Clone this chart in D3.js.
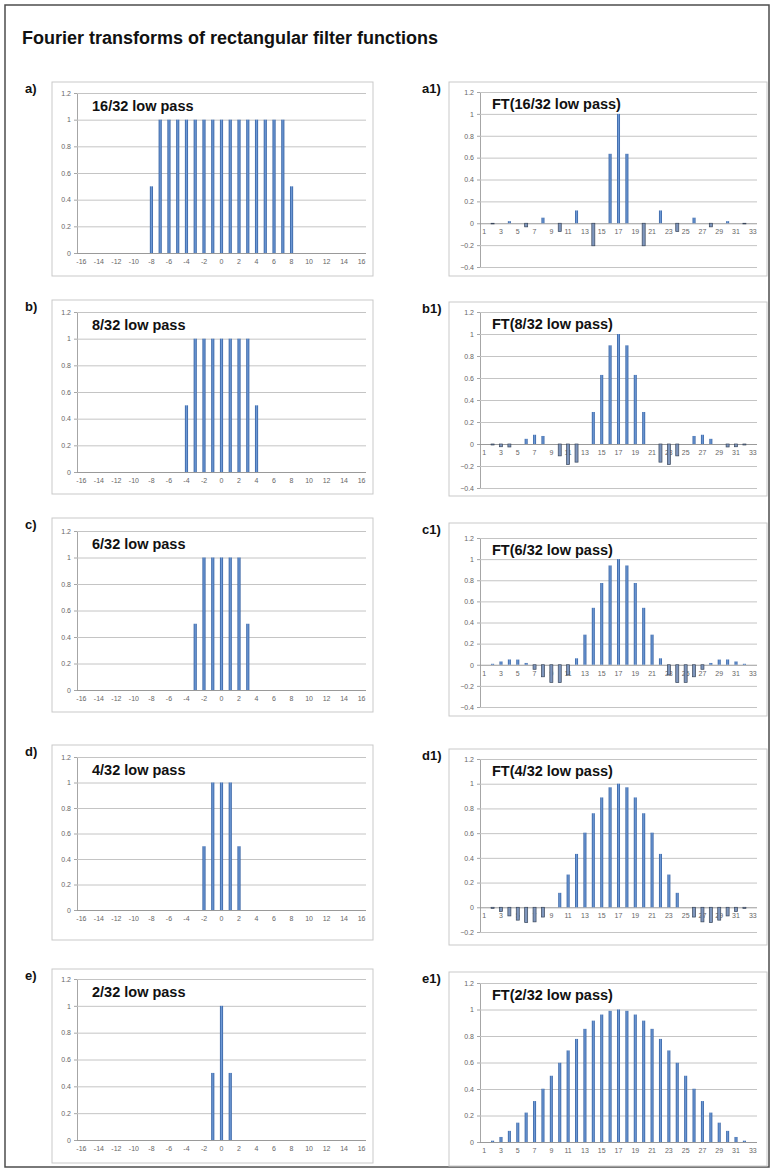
<!DOCTYPE html>
<html><head><meta charset="utf-8">
<script src="https://cdn.jsdelivr.net/npm/d3@7"></script>
<style>body{margin:0;background:#fff}svg{display:block;font-family:"Liberation Sans",Arial,sans-serif}</style>
</head><body><svg id="c" width="774" height="1171"></svg>
<script>
// ---------- DATA ----------
const filterCategories = [-16,-15,-14,-13,-12,-11,-10,-9,-8,-7,-6,-5,-4,-3,-2,-1,0,1,2,3,4,5,6,7,8,9,10,11,12,13,14,15,16];
const filterTickLabels = [-16,-14,-12,-10,-8,-6,-4,-2,0,2,4,6,8,10,12,14,16];
const ftCategories = [1,2,3,4,5,6,7,8,9,10,11,12,13,14,15,16,17,18,19,20,21,22,23,24,25,26,27,28,29,30,31,32,33];
const ftTickLabels = [1,3,5,7,9,11,13,15,17,19,21,23,25,27,29,31,33];
const filterTicks = [0,0.2,0.4,0.6,0.8,1,1.2];

const lowPass16 = [0,0,0,0,0,0,0,0,0.5,1,1,1,1,1,1,1,1,1,1,1,1,1,1,1,0.5,0,0,0,0,0,0,0,0];
const lowPass8  = [0,0,0,0,0,0,0,0,0,0,0,0,0.5,1,1,1,1,1,1,1,0.5,0,0,0,0,0,0,0,0,0,0,0,0];
const lowPass6  = [0,0,0,0,0,0,0,0,0,0,0,0,0,0.5,1,1,1,1,1,0.5,0,0,0,0,0,0,0,0,0,0,0,0,0];
const lowPass4  = [0,0,0,0,0,0,0,0,0,0,0,0,0,0,0.5,1,1,1,0.5,0,0,0,0,0,0,0,0,0,0,0,0,0,0];
const lowPass2  = [0,0,0,0,0,0,0,0,0,0,0,0,0,0,0,0.5,1,0.5,0,0,0,0,0,0,0,0,0,0,0,0,0,0,0];

const ft16 = [0,-0.006,0,0.019,0,-0.033,0,0.051,0,-0.076,0,0.117,0,-0.206,0,0.635,1,0.635,0,-0.206,0,0.117,0,-0.076,0,0.051,0,-0.033,0,0.019,0,-0.006,0];
const ft8  = [0,-0.009,-0.025,-0.027,0,0.047,0.084,0.073,0,-0.108,-0.187,-0.165,0,0.291,0.628,0.897,1,0.897,0.628,0.291,0,-0.165,-0.187,-0.108,0,0.073,0.084,0.047,0,-0.027,-0.025,-0.009,0];
const ft6  = [0,0.009,0.031,0.050,0.049,0.017,-0.043,-0.114,-0.167,-0.169,-0.096,0.061,0.285,0.539,0.774,0.940,1,0.940,0.774,0.539,0.285,0.061,-0.096,-0.169,-0.167,-0.114,-0.043,0.017,0.049,0.050,0.031,0.009,0];
const ft4  = [0,-0.009,-0.035,-0.070,-0.104,-0.124,-0.118,-0.079,0,0.117,0.265,0.432,0.604,0.761,0.889,0.971,1,0.971,0.889,0.761,0.604,0.432,0.265,0.117,0,-0.079,-0.118,-0.124,-0.104,-0.070,-0.035,-0.009,0];
const ft2  = [0,0.010,0.038,0.084,0.146,0.222,0.309,0.402,0.5,0.598,0.691,0.778,0.854,0.916,0.962,0.990,1,0.990,0.962,0.916,0.854,0.778,0.691,0.598,0.5,0.402,0.309,0.222,0.146,0.084,0.038,0.010,0];

const ftTicksFull = [-0.4,-0.2,0,0.2,0.4,0.6,0.8,1,1.2];
const ftTicksD = [-0.2,0,0.2,0.4,0.6,0.8,1,1.2];
const ftTicksE = [0,0.2,0.4,0.6,0.8,1,1.2];

const panelLetters = ["a)","b)","c)","d)","e)"];
const ftLetters = ["a1)","b1)","c1)","d1)","e1)"];
const filterTitles = ["16/32 low pass","8/32 low pass","6/32 low pass","4/32 low pass","2/32 low pass"];
const ftTitles = ["FT(16/32 low pass)","FT(8/32 low pass)","FT(6/32 low pass)","FT(4/32 low pass)","FT(2/32 low pass)"];
const filterSeries = [lowPass16, lowPass8, lowPass6, lowPass4, lowPass2];
const ftSeries = [ft16, ft8, ft6, ft4, ft2];
const ftTickSets = [ftTicksFull, ftTicksFull, ftTicksFull, ftTicksD, ftTicksE];

// ---------- LAYOUT ----------
const leftRows = [
  {box:[52,82,373,276], top:93, bot:253},
  {box:[52,300,373,494], top:312, bot:472},
  {box:[52,518,373,712], top:531, bot:690},
  {box:[52,745,373,940], top:757, bot:910},
  {box:[52,969,373,1163], top:979, bot:1140}
];
const rightRows = [
  {box:[449,82,767,276], top:92, bot:267},
  {box:[449,302,767,496], top:312, bot:488},
  {box:[449,523,767,716], top:538, bot:707},
  {box:[449,749,767,945], top:759, bot:932},
  {box:[449,972,767,1166], top:983, bot:1142}
];

const svg = d3.select("#c");
svg.append("rect").attr("x",5).attr("y",5).attr("width",764).attr("height",1162)
  .attr("fill","#fff").attr("stroke","#4d4d4d").attr("stroke-width",1.5);
svg.append("text").attr("x",22).attr("y",44).attr("font-size",18).attr("font-weight","bold")
  .attr("fill","#111").text("Fourier transforms of rectangular filter functions");

const defs = svg.append("defs");
const grad = defs.append("linearGradient").attr("id","barGrad").attr("x1","0").attr("x2","1").attr("y1","0").attr("y2","0");
grad.append("stop").attr("offset","0").attr("stop-color","#2f5c9e");
grad.append("stop").attr("offset","0.5").attr("stop-color","#6f9ad6");
grad.append("stop").attr("offset","1").attr("stop-color","#2f5c9e");

function drawPanel(o){
  const g = svg.append("g");
  const [bx0,by0,bx1,by1] = o.box;
  g.append("rect").attr("x",bx0).attr("y",by0).attr("width",bx1-bx0).attr("height",by1-by0)
    .attr("fill","#fff").attr("stroke","#c9c9c9").attr("stroke-width",1);
  const x = d3.scaleBand().domain(o.cats).range([o.px0,o.px1]).paddingInner(0.64).paddingOuter(0.32);
  const y = d3.scaleLinear().domain(o.domain).range([o.bot,o.top]);
  const yAxis = d3.axisLeft(y).tickValues(o.ticks).tickSize(3).tickFormat(d=>d3.format("~g")(d));
  const ya = g.append("g").attr("transform",`translate(${o.px0},0)`).call(yAxis);
  ya.select(".domain").attr("stroke","#a6a6a6");
  ya.selectAll(".tick line").attr("stroke","#a6a6a6");
  ya.selectAll(".tick text").attr("font-size",7).attr("fill","#666").attr("font-family","Liberation Sans, Arial");
  const grid = d3.axisLeft(y).tickValues(o.ticks).tickSize(-(o.px1-o.px0)).tickFormat("");
  const gg = g.append("g").attr("transform",`translate(${o.px0},0)`).call(grid);
  gg.select(".domain").remove();
  gg.selectAll(".tick line").attr("stroke",d=>d===0?"#9a9a9a":"#c4c4c4").attr("stroke-width",1);
  const xAxis = d3.axisBottom(x).tickValues(o.tickLabels).tickSize(0).tickPadding(6);
  const xa = g.append("g").attr("transform",`translate(0,${y(0)})`).call(xAxis);
  xa.select(".domain").remove();
  xa.selectAll(".tick text").attr("font-size",7).attr("fill","#666").attr("font-family","Liberation Sans, Arial");
  const data = o.cats.map((c,i)=>({c, v:o.values[i]}));
  g.append("g").selectAll("rect").data(data.filter(d=>d.v!==0)).join("rect")
    .attr("x",d=>x(d.c)).attr("width",x.bandwidth())
    .attr("y",d=>y(Math.max(0,d.v))).attr("height",d=>Math.abs(y(d.v)-y(0)))
    .attr("fill",d=>d.v>=0?"url(#barGrad)":"#7e96bd")
    .attr("stroke",d=>d.v>=0?"none":"#39465a").attr("stroke-width",0.7);
  g.append("text").attr("x",o.titleX).attr("y",o.top+o.titleDy).attr("font-size",14.5).attr("font-weight","bold")
    .attr("fill","#111").text(o.title);
  svg.append("text").attr("x",o.labelX).attr("y",by0+11).attr("font-size",13).attr("font-weight","bold")
    .attr("fill","#111").text(o.label);
}

for(let i=0;i<5;i++){
  const L = leftRows[i];
  drawPanel({box:L.box, px0:77, px1:366, top:L.top, bot:L.bot, domain:[0,1.2], ticks:filterTicks,
    cats:filterCategories, tickLabels:filterTickLabels, values:filterSeries[i], title:filterTitles[i],
    titleX:92, titleDy:18, label:panelLetters[i], labelX:25});
  const R = rightRows[i];
  const ts = ftTickSets[i];
  drawPanel({box:R.box, px0:480, px1:757, top:R.top, bot:R.bot, domain:[ts[0], ts[ts.length-1]], ticks:ts,
    cats:ftCategories, tickLabels:ftTickLabels, values:ftSeries[i], title:ftTitles[i],
    titleX:492, titleDy:17, label:ftLetters[i], labelX:422});
}
</script></body></html>
